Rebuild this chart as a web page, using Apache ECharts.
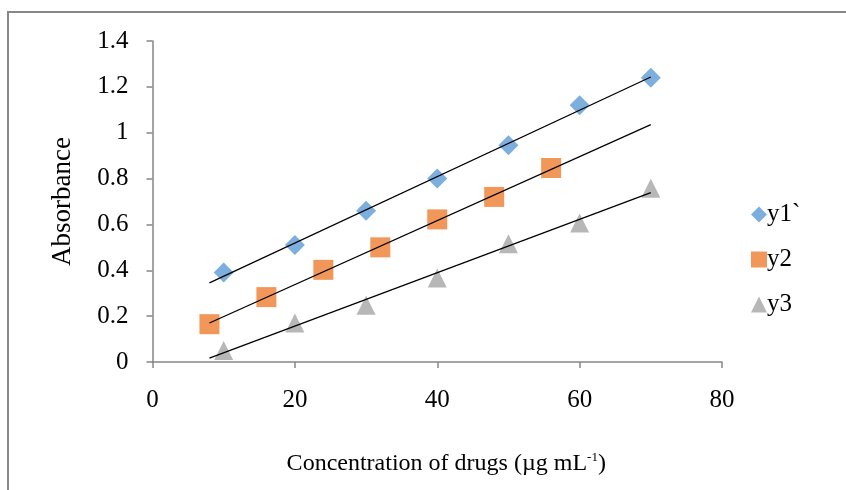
<!DOCTYPE html>
<html>
<head>
<meta charset="utf-8">
<script src="https://cdn.jsdelivr.net/npm/echarts@6/dist/echarts.min.js"></script>
<style>
html,body{margin:0;padding:0;background:#fff;}
#c{width:846px;height:490px;}
</style>
</head>
<body>
<div id="c"></div>
<script>
// Data
var xY1 = [10, 20, 30, 40, 50, 60, 70];
var valY1 = [0.39, 0.51, 0.66, 0.80, 0.945, 1.12, 1.24];
var xY2 = [8, 16, 24, 32, 40, 48, 56];
var valY2 = [0.165, 0.283, 0.402, 0.50, 0.622, 0.72, 0.846];
var xY3 = [10, 20, 30, 40, 50, 60, 70];
var valY3 = [0.05, 0.17, 0.247, 0.366, 0.516, 0.606, 0.758];
// Trendline endpoints (x, y) as drawn in the reference
var trendX = [8, 70];
var trendY1 = [0.345, 1.243];
var trendY2 = [0.170, 1.035];
var trendY3 = [0.017, 0.739];
var seriesNames = ['y1`', 'y2', 'y3'];
var yTickLabels = ['0', '0.2', '0.4', '0.6', '0.8', '1', '1.2', '1.4'];

function pairs(xs, ys){ return xs.map(function(x,i){ return [x, ys[i]]; }); }

var FONT = '"Liberation Serif", "DejaVu Serif", serif';
var chart = echarts.init(document.getElementById('c'), null, {renderer:'canvas'});
var axisCol = '#868686';

chart.setOption({
  animation: false,
  backgroundColor: '#fff',
  textStyle: {fontFamily: FONT, color: '#000'},
  graphic: [{
    type: 'rect',
    shape: {x: 8, y: 12, width: 900, height: 600},
    style: {fill: 'none', stroke: '#888888', lineWidth: 2},
    silent: true, z: -10
  }],
  grid: {left: 152.5, right: 124, top: 41, bottom: 128, containLabel: false},
  legend: {
    orient: 'vertical',
    left: 746, top: 197,
    itemGap: 20,
    itemWidth: 16, itemHeight: 16,
    data: [
      {name: seriesNames[0], icon: 'diamond'},
      {name: seriesNames[1], icon: 'rect'},
      {name: seriesNames[2], icon: 'triangle'}
    ],
    textStyle: {fontFamily: FONT, fontSize: 25, color: '#000', padding: [0,0,0,-5]}
  },
  xAxis: {
    type: 'value', min: 0, max: 80, interval: 20,
    name: 'Concentration of drugs (µg mL{sup|-1})',
    nameLocation: 'middle', nameGap: 89,
    nameTextStyle: {fontFamily: FONT, fontSize: 24, color: '#000', padding: [0,0,0,18],
      rich: {sup: {fontFamily: FONT, fontSize: 13, verticalAlign: 'top', padding: [0,0,12,0]}}},
    axisLine: {lineStyle: {color: axisCol, width: 1.5}},
    axisTick: {show: true, length: 6, lineStyle: {color: axisCol, width: 1.5}},
    axisLabel: {fontFamily: FONT, fontSize: 25, color: '#000', margin: 26},
    splitLine: {show: false}
  },
  yAxis: {
    type: 'value', min: 0, max: 1.4, interval: 0.2,
    name: 'Absorbance', nameLocation: 'middle', nameGap: 76, nameRotate: 90,
    nameTextStyle: {fontFamily: FONT, fontSize: 27, color: '#000'},
    axisLine: {show: true, lineStyle: {color: axisCol, width: 1.5}},
    axisTick: {show: true, length: 6, lineStyle: {color: axisCol, width: 1.5}},
    axisLabel: {fontFamily: FONT, fontSize: 25, color: '#000', margin: 24,
      formatter: function(v){ return yTickLabels[Math.round(v/0.2)]; }},
    splitLine: {show: false}
  },
  series: [
    {name: seriesNames[0], type: 'scatter', symbol: 'diamond', symbolSize: 20,
     itemStyle: {color: '#5B9BD5'}, data: pairs(xY1, valY1), z: 2},
    {name: seriesNames[1], type: 'scatter', symbol: 'rect', symbolSize: 20,
     itemStyle: {color: '#ED7D31'}, data: pairs(xY2, valY2), z: 2},
    {name: seriesNames[2], type: 'scatter', symbol: 'triangle', symbolSize: [19, 19],
     itemStyle: {color: '#A5A5A5'}, data: pairs(xY3, valY3), z: 2},
    {name: 't1', type: 'line', symbol: 'none', data: pairs(trendX, trendY1),
     lineStyle: {color: '#000', width: 1.3}, z: 5, silent: true},
    {name: 't2', type: 'line', symbol: 'none', data: pairs(trendX, trendY2),
     lineStyle: {color: '#000', width: 1.3}, z: 5, silent: true},
    {name: 't3', type: 'line', symbol: 'none', data: pairs(trendX, trendY3),
     lineStyle: {color: '#000', width: 1.3}, z: 5, silent: true}
  ]
});
</script>
</body>
</html>
